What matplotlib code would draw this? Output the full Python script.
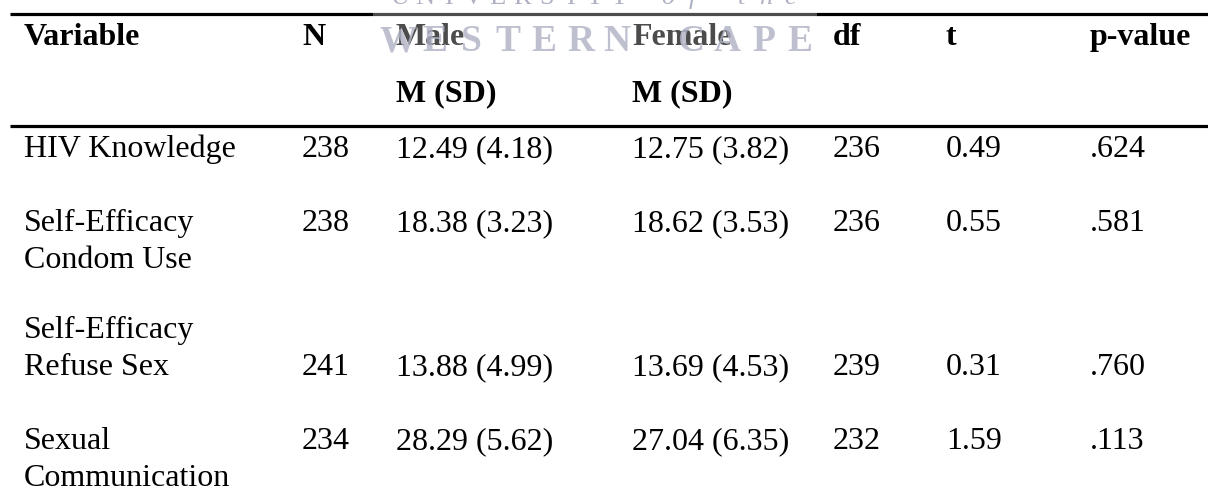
import matplotlib.pyplot as plt
from matplotlib.patches import Rectangle
import numpy as np

# table contents
variables = ["HIV Knowledge", "Self-Efficacy\nCondom Use",
             "Self-Efficacy\nRefuse Sex", "Sexual\nCommunication"]
n_vals = [238, 238, 241, 234]
male_m = [12.49, 18.38, 13.88, 28.29]
male_sd = [4.18, 3.23, 4.99, 5.62]
female_m = [12.75, 18.62, 13.69, 27.04]
female_sd = [3.82, 3.53, 4.53, 6.35]
df_vals = [236, 236, 239, 232]
t_vals = [0.49, 0.55, 0.31, 1.59]
p_vals = [".624", ".581", ".760", ".113"]

headers = ["Variable", "N", "Male", "Female", "df", "t", "p-value"]
sub_headers = ["", "", "M (SD)", "M (SD)", "", "", ""]

W, H = 1208, 497
col_x = [24, 302, 396, 632, 833, 946, 1090]
label_base = [157, 231, 338, 449]   # baseline of first line of each label
value_base = [157, 231, 375, 449]   # baseline of the numbers in each row
line_gap = 37

FONT = "Liberation Serif"
FS = 23

fig = plt.figure(figsize=(W / 100, H / 100), dpi=100)
ax = fig.add_axes([0, 0, 1, 1])
ax.set_xlim(0, W)
ax.set_ylim(H, 0)
ax.axis("off")

# rules
ax.plot([10, W], [14, 14], color="black", lw=2.3, solid_capstyle="butt")
ax.plot([10, W], [126, 126], color="black", lw=2.3, solid_capstyle="butt")

# header
for x, h, s in zip(col_x, headers, sub_headers):
    ax.text(x, 45, h, family=FONT, weight="bold", fontsize=FS, va="baseline", ha="left")
    if s:
        ax.text(x, 101, s, family=FONT, weight="bold", fontsize=FS, va="baseline", ha="left")

# body
for i, var in enumerate(variables):
    for j, line in enumerate(var.split("\n")):
        ax.text(col_x[0], label_base[i] + j * line_gap, line, family=FONT,
                fontsize=FS, va="baseline", ha="left")
    cells = [str(n_vals[i]),
             f"{male_m[i]:.2f} ({male_sd[i]:.2f})",
             f"{female_m[i]:.2f} ({female_sd[i]:.2f})",
             str(df_vals[i]),
             f"{t_vals[i]:.2f}",
             p_vals[i]]
    for x, c in zip(col_x[1:], cells):
        ax.text(x, value_base[i], c, family=FONT, fontsize=FS, va="baseline", ha="left")

# scanned watermark: faded patch with university name
ax.add_patch(Rectangle((373, 0), 444, 74, facecolor="white", alpha=0.3,
                       edgecolor="none", zorder=5))
wm_col = "#aeb1c4"
for x, ch in zip(np.linspace(400, 790, 17), "UNIVERSITY of the"):
    ax.text(x, 4, ch, family=FONT, fontsize=19, color=wm_col, ha="center",
            va="baseline", style="italic" if ch.islower() else "normal", zorder=6)
for x, ch in zip(np.linspace(398, 800, 12), "WESTERN CAPE"):
    ax.text(x, 51, ch, family=FONT, weight="bold", fontsize=27, color=wm_col,
            ha="center", va="baseline", alpha=0.8, zorder=6)

fig.savefig("out.png", dpi=100)
